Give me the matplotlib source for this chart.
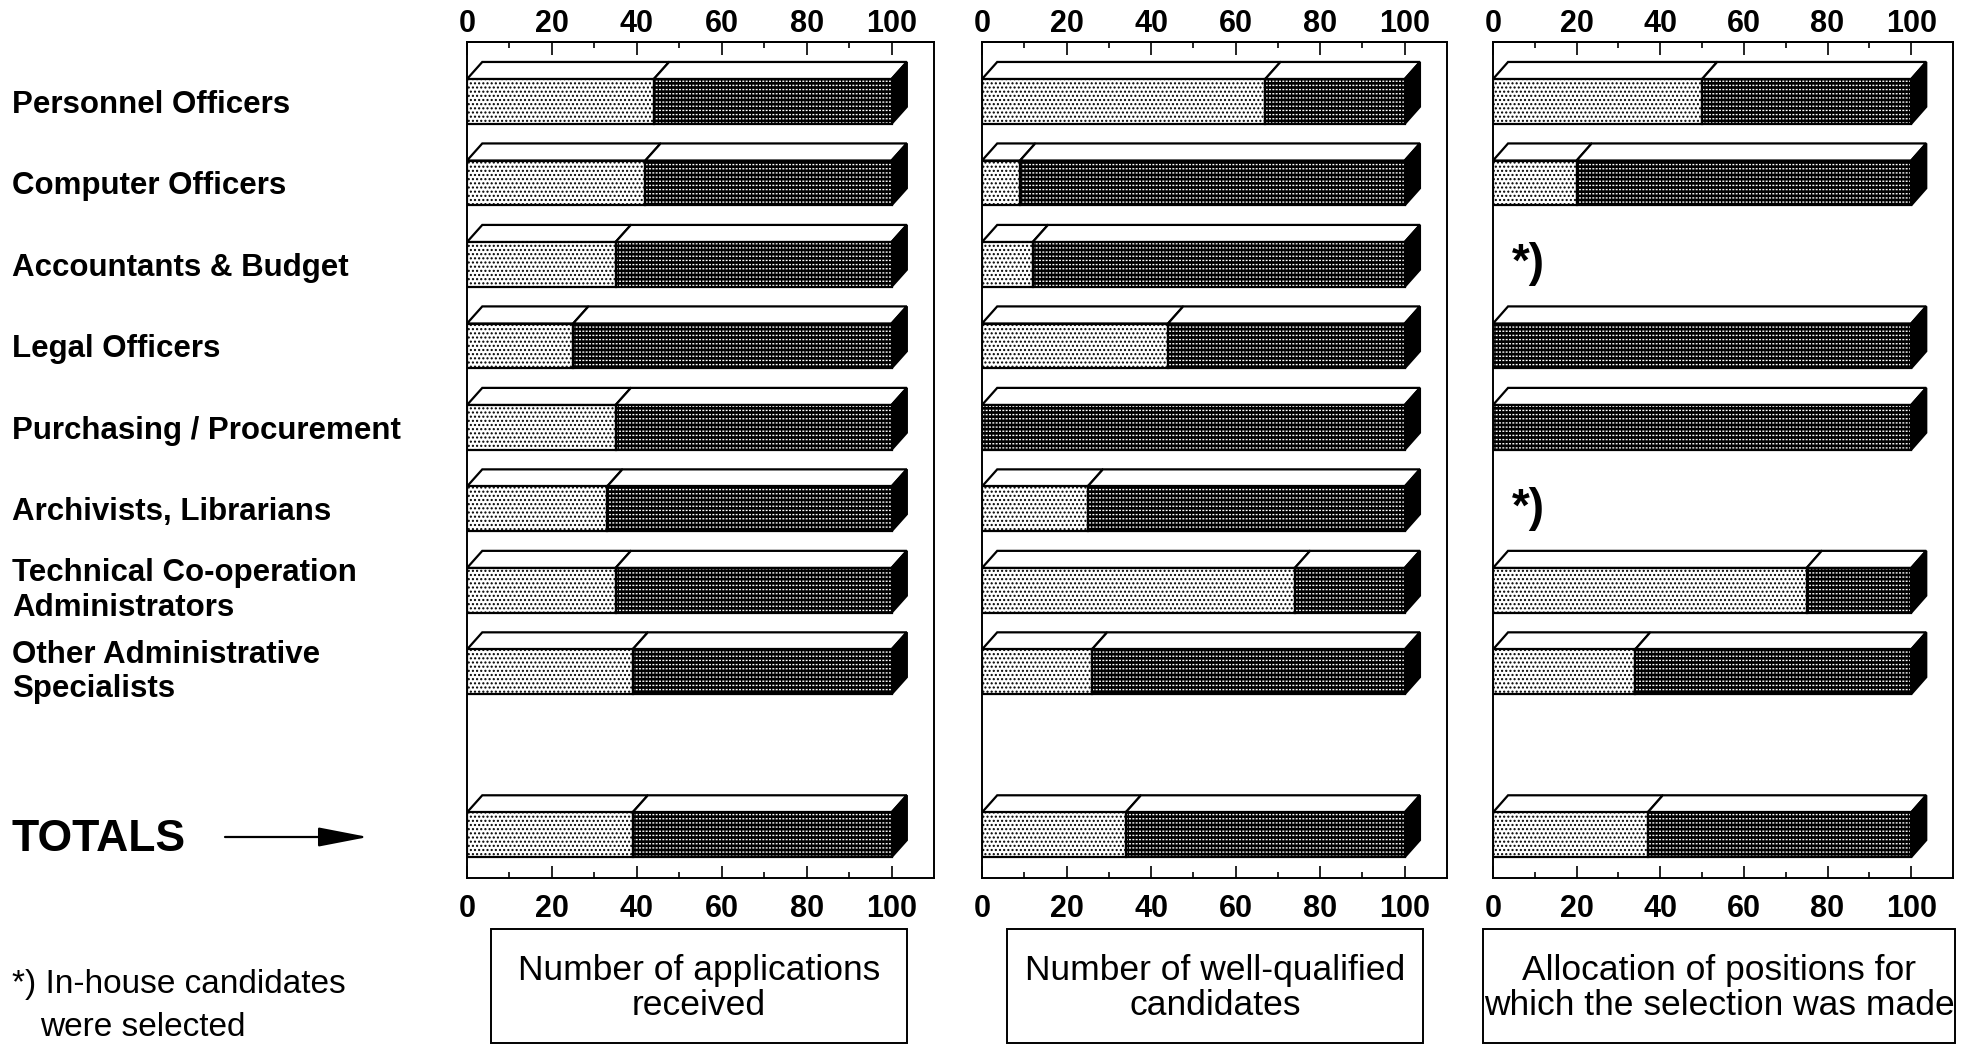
import numpy as np
import matplotlib.pyplot as plt
import matplotlib.transforms as mtransforms
from matplotlib.patches import Rectangle, Polygon

plt.rcParams['font.family'] = ['Liberation Sans', 'DejaVu Sans']
plt.rcParams['hatch.linewidth'] = 1.0

categories = ['Personnel Officers', 'Computer Officers', 'Accountants & Budget',
              'Legal Officers', 'Purchasing / Procurement', 'Archivists, Librarians',
              'Technical Co-operation\nAdministrators',
              'Other Administrative\nSpecialists']
# share (%) of the light part of each bar, the dark part fills up to 100
applications = [44, 42, 35, 25, 35, 33, 35, 39]
well_qualified = [67, 9, 12, 44, 0, 25, 74, 26]
allocation = [50, 20, None, 0, 0, None, 75, 34]  # None: in-house candidates selected
totals = [39, 34, 37]
panel_titles = ['Number of applications\nreceived',
                'Number of well-qualified\ncandidates',
                'Allocation of positions for\nwhich the selection was made']
ticks = [0, 20, 40, 60, 80, 100]
minor_ticks = [10, 30, 50, 70, 90]

rows = list(range(len(categories)))
total_row = 9

W, H = 1963, 1045
fig = plt.figure(figsize=(W / 100, H / 100), dpi=100)


def px_axes(l, t, r, b):
    return fig.add_axes([l / W, 1 - b / H, (r - l) / W, (b - t) / H])


# overlay in pixel coords for the free text, arrow and boxes
ov = px_axes(0, 0, W, H)
ov.set_xlim(0, W)
ov.set_ylim(H, 0)
ov.axis('off')

DX, DY, BH = 3.6, 0.21, 0.55
LW = 1.6


def bar3d(ax, y, v):
    top, bot = y - BH / 2, y + BH / 2
    segs = [(0, v), (v, 100)] if v > 0 else [(0, 100)]
    for x0, x1 in segs:
        ax.add_patch(Polygon([(x0, top), (x1, top), (x1 + DX, top - DY), (x0 + DX, top - DY)],
                             closed=True, facecolor='white', edgecolor='black', lw=LW,
                             joinstyle='miter'))
    ax.add_patch(Polygon([(100, top), (100 + DX, top - DY), (100 + DX, bot - DY), (100, bot)],
                         closed=True, facecolor='black', edgecolor='black', lw=LW))
    if v > 0:
        ax.add_patch(Rectangle((0, top), v, BH, facecolor='white', edgecolor='black',
                               lw=0, hatch='....'))
        ax.add_patch(Rectangle((0, top), v, BH, fill=False, edgecolor='black', lw=LW))
    ax.add_patch(Rectangle((v, top), 100 - v, BH, facecolor='black', edgecolor='white',
                           lw=0, hatch='----'))
    ax.add_patch(Rectangle((v, top), 100 - v, BH, fill=False, edgecolor='black',
                           lw=0, hatch='|||||'))
    ax.add_patch(Rectangle((v, top), 100 - v, BH, fill=False, edgecolor='black', lw=LW))


panel_px = [(467, 42, 934, 878), (982, 42, 1447, 878), (1493, 42, 1953, 878)]
box_px = [(491, 907), (1007, 1423), (1483, 1955)]
series = [applications, well_qualified, allocation]

axes = []
for i, (bounds, vals) in enumerate(zip(panel_px, series)):
    ax = px_axes(*bounds)
    axes.append(ax)
    ax.set_xlim(0, 110)
    ax.set_ylim(9.53, -0.73)
    for y, v in zip(rows, vals):
        if v is None:
            ax.text(4.5, y, '*)', fontsize=33, fontweight='bold', ha='left', va='center')
        else:
            bar3d(ax, y, v)
    bar3d(ax, total_row, totals[i])

    ax.set_yticks([])
    ax.set_xticks(ticks)
    ax.set_xticks(minor_ticks, minor=True)
    ax.tick_params(axis='x', which='both', direction='in', top=True, bottom=True,
                   width=1.2, labelsize=22, pad=11.5)
    ax.tick_params(axis='x', which='major', length=9)
    ax.tick_params(axis='x', which='minor', length=4)
    for lab in ax.get_xticklabels():
        lab.set_fontweight('bold')
    for sp in ax.spines.values():
        sp.set_linewidth(1.4)

    sec = ax.secondary_xaxis('top')
    sec.set_xticks(ticks)
    sec.tick_params(axis='x', direction='in', length=0, labelsize=22, pad=2)
    sec.spines['top'].set_linewidth(1.4)
    for lab in sec.get_xticklabels():
        lab.set_fontweight('bold')

    x0, x1 = box_px[i]
    ov.add_patch(Rectangle((x0, 929), x1 - x0, 114, fill=False, edgecolor='black', lw=1.4))
    ov.text((x0 + x1) / 2, 988, panel_titles[i], ha='center', va='center',
            fontsize=25.5, linespacing=1.1)

# category labels, aligned with the bar rows
lab_trans = mtransforms.blended_transform_factory(fig.transFigure, axes[0].transData)
for y, cat in zip(rows, categories):
    va = 'center' if '\n' in cat else 'center_baseline'
    t = axes[0].text(12 / W, y, cat, transform=lab_trans, ha='left', va=va,
                     fontsize=22.5, fontweight='bold', linespacing=1.2)
    t.set_clip_on(False)
t = axes[0].text(12 / W, total_row, 'TOTALS', transform=lab_trans, ha='left',
                 va='center_baseline', fontsize=32, fontweight='bold')
t.set_clip_on(False)

ov.annotate('', xy=(368, 837), xytext=(225, 837),
            arrowprops=dict(arrowstyle='-|>,head_length=1.55,head_width=0.3',
                            mutation_scale=20, lw=1.6, color='black',
                            shrinkA=0, shrinkB=0))

ov.text(12, 985, '*) In-house candidates', ha='left', va='center', fontsize=24)
ov.text(40, 1028, 'were selected', ha='left', va='center', fontsize=24)

plt.savefig('out.png', dpi=100)
